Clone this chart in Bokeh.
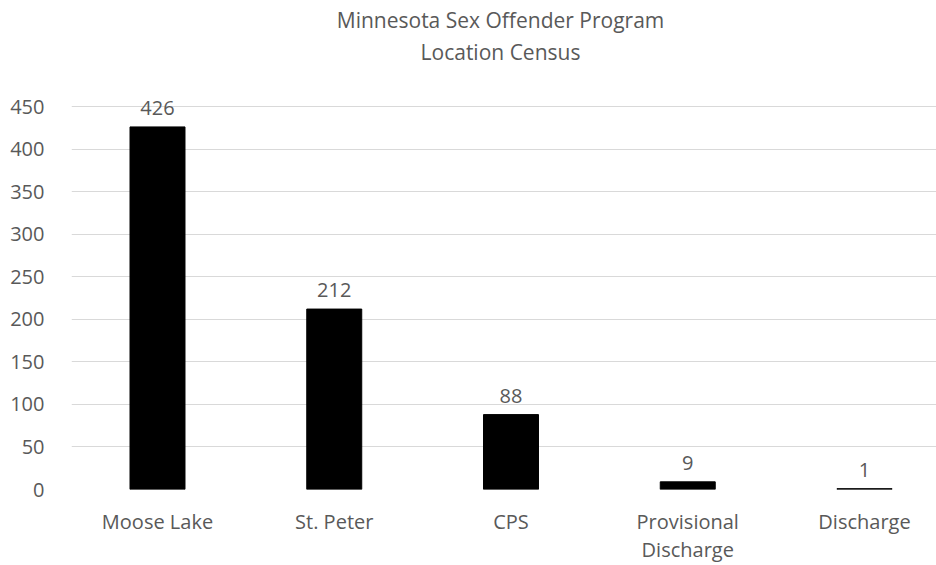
from bokeh.plotting import figure
from bokeh.models import FixedTicker, ColumnDataSource, Range1d
from bokeh.core.properties import value
from bokeh.embed import file_html
from bokeh.resources import INLINE

categories = ["Moose Lake", "St. Peter", "CPS", "Provisional\nDischarge", "Discharge"]
counts = [426, 212, 88, 9, 1]
y_ticks = [0, 50, 100, 150, 200, 250, 300, 350, 400, 450]
title_lines = ["Minnesota Sex Offender Program", "Location Census"]

FONT = "Open Sans"
GREY = "#595959"

# layout constants (pixels)
W, H = 936, 565
LEFT, BOTTOM = 71, 76
PX_PER_CAT = 176.75
PX_PER_UNIT = 383.0 / 450.0
FIRST_CENTER = 157
frame_w = W - LEFT
frame_h = H - BOTTOM
x0 = -(FIRST_CENTER - LEFT) / PX_PER_CAT
x1 = x0 + frame_w / PX_PER_CAT
y1 = frame_h / PX_PER_UNIT

xs = list(range(len(categories)))
src = ColumnDataSource(dict(x=xs, top=counts, label=[str(c) for c in counts]))

p = figure(width=W, height=H, output_backend="svg", toolbar_location=None,
           x_range=Range1d(x0, x1), y_range=Range1d(0, y1),
           min_border_left=LEFT, min_border_right=0, min_border_bottom=BOTTOM, min_border_top=0)

p.vbar(x="x", top="top", width=0.311, source=src, fill_color="black", line_color="black")
p.text(x="x", y="top", text="label", source=src, text_align="center", text_baseline="alphabetic",
       y_offset=-19, text_font=value(FONT), text_font_size="20px", text_color=GREY)

# chart title (two centred lines) near the top of the figure
title_x = x0 + (500 - LEFT) / PX_PER_CAT
title_src = ColumnDataSource(dict(x=[title_x] * len(title_lines), y=[y1] * len(title_lines),
                                  t=title_lines, off=[19 + 32 * i for i in range(len(title_lines))]))
p.text(x="x", y="y", text="t", y_offset="off", source=title_src, text_align="center",
       text_baseline="middle", text_font=value(FONT), text_font_size="21px", text_color=GREY)

p.outline_line_color = None
p.xgrid.grid_line_color = None
p.ygrid.grid_line_color = "#d9d9d9"
p.ygrid.grid_line_width = 1
p.yaxis.ticker = FixedTicker(ticks=y_ticks)
p.xaxis.ticker = FixedTicker(ticks=xs)
p.xaxis.major_label_overrides = {i: c for i, c in enumerate(categories)}
for ax in (p.xaxis, p.yaxis):
    ax.axis_line_color = None
    ax.major_tick_line_color = None
    ax.minor_tick_line_color = None
    ax.major_label_text_font = FONT
    ax.major_label_text_font_size = "20px"
    ax.major_label_text_color = GREY
p.xaxis.major_label_text_line_height = 1.05
p.yaxis.major_label_standoff = 21
p.xaxis.major_label_standoff = 12

open("out.html", "w").write(file_html(p, INLINE))
